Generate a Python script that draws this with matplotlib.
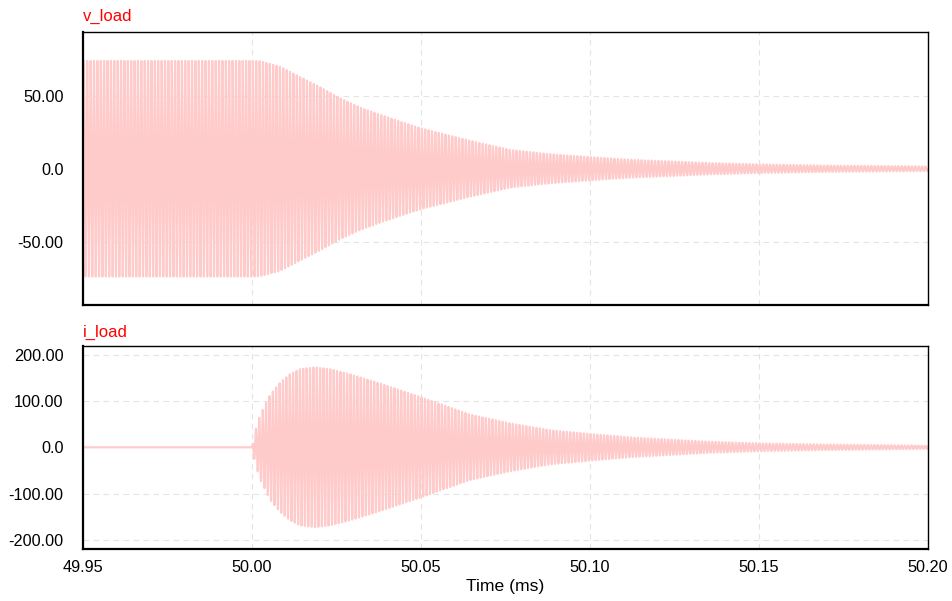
import numpy as np
import matplotlib as mpl
mpl.use('Agg')
import matplotlib.pyplot as plt
from matplotlib.ticker import FixedLocator, FixedFormatter

plt.rcParams['font.family'] = ['Liberation Sans', 'DejaVu Sans']

# envelope readings (time in ms, peak value)
v_env_t = [49.95, 50.000, 50.0024, 50.0083, 50.0142, 50.0201, 50.026, 50.032, 50.0379,
           50.0438, 50.0497, 50.0556, 50.0645, 50.0763, 50.0882, 50.100, 50.1118,
           50.1355, 50.150, 50.170, 50.200]
v_env_a = [74.0, 74.0, 73.8, 70.0, 63.0, 56.0, 48.4, 42.0, 37.0,
           32.4, 27.9, 24.4, 19.2, 13.0, 10.0, 8.0, 6.2,
           3.9, 3.0, 2.2, 1.6]

i_env_t = [49.95, 50.000, 50.0009, 50.0024, 50.0053, 50.0083, 50.0112, 50.0142, 50.0186,
           50.0231, 50.029, 50.0379, 50.0497, 50.0645, 50.0763, 50.0882, 50.100,
           50.1118, 50.1355, 50.150, 50.170, 50.200]
i_env_a = [0.0, 0.0, 34.0, 70.0, 113.0, 140.0, 158.0, 169.0, 173.0,
           169.0, 158.0, 138.0, 109.0, 71.0, 52.0, 37.0, 29.0,
           21.6, 12.0, 8.6, 6.0, 3.5]

f_osc = 1.0  # MHz -> period 0.001 ms

x_ticks = [49.95, 50.00, 50.05, 50.10, 50.15, 50.20]
x_labels = ["49.95", "50.00", "50.05", "50.10", "50.15", "50.20"]
v_ticks = [-50, 0, 50]
v_labels = ["-50.00", "0.0", "50.00"]
i_ticks = [-200, -100, 0, 100, 200]
i_labels = ["-200.00", "-100.00", "0.0", "100.00", "200.00"]

t = np.arange(49.95, 50.2, 0.001 / 40)
phase = 2 * np.pi * (t - 50.0) / (0.001 / f_osc)
v_load = np.interp(t, v_env_t, v_env_a) * np.sin(phase)
i_load = np.interp(t, i_env_t, i_env_a) * np.sin(phase + 0.6)

fig = plt.figure(figsize=(9.52, 6.01), dpi=100)
ax1 = fig.add_axes([0.0872, 0.4925, 0.8876, 0.4543])
ax2 = fig.add_axes([0.0872, 0.0865, 0.8876, 0.3378])

wave_col = '#ffcaca'
ax1.plot(t, v_load, color=wave_col, lw=1.5)
ax2.plot(t, i_load, color=wave_col, lw=1.5)

fs = 11.7
for ax, yt, yl, lim, name in [(ax1, v_ticks, v_labels, (-93.5, 93.8), "v_load"),
                              (ax2, i_ticks, i_labels, (-220, 219), "i_load")]:
    ax.set_xlim(49.95, 50.20)
    ax.set_ylim(*lim)
    ax.xaxis.set_major_locator(FixedLocator(x_ticks))
    ax.yaxis.set_major_locator(FixedLocator(yt))
    ax.yaxis.set_major_formatter(FixedFormatter(yl))
    ax.grid(True, color='#e4e4e4', ls=(0, (5, 4)), lw=0.8)
    ax.set_axisbelow(True)
    ax.tick_params(axis='y', length=0, labelsize=fs, pad=14)
    ax.tick_params(axis='x', length=0, labelsize=fs, pad=8)
    for s in ['left', 'bottom']:
        ax.spines[s].set_linewidth(1.6)
    for s in ['top', 'right']:
        ax.spines[s].set_linewidth(1.0)
    ax.text(0.0, 1.03, name, transform=ax.transAxes, color='red', fontsize=12,
            ha='left', va='bottom')

ax1.set_xticklabels([])
ax2.xaxis.set_major_formatter(FixedFormatter(x_labels))
ax2.set_xlabel("Time (ms)", fontsize=12.6, labelpad=3)

fig.savefig('out.png', dpi=100)
